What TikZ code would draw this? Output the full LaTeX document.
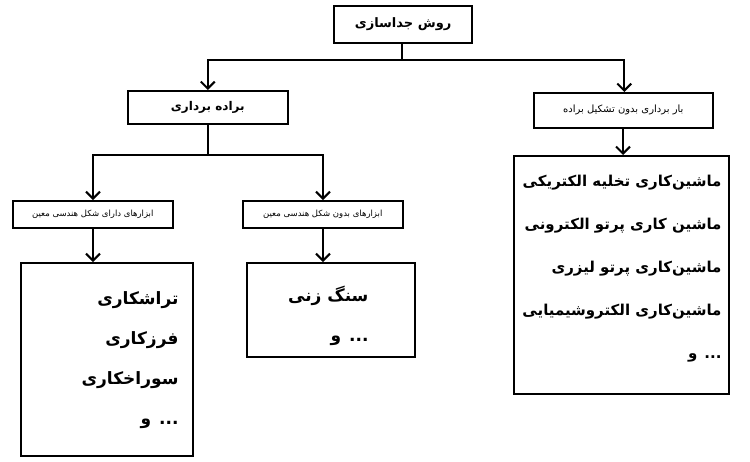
\documentclass[tikz,border=0pt]{standalone}
\usepackage{fontspec}
\newfontfamily\ar[Script=Arabic]{DejaVu Sans}
\TeXXeTstate=1
\newcommand{\fa}[1]{{\ar\beginR #1\endR}}
\usetikzlibrary{arrows.meta}
\begin{document}
\begin{tikzpicture}[x=1pt,y=-1pt,
  box/.style={draw,line width=1.6pt,inner sep=0pt,anchor=north west},
  con/.style={line width=2pt},
  arr/.style={con,-{Straight Barb[length=7pt,width=14pt,line width=2pt]}}]
\useasboundingbox (0,0) rectangle (750,461);
\node[box,minimum width=138,minimum height=37,line width=2.2pt] (top) at (333,5) {\fa{\bfseries\fontsize{13}{15}\selectfont روش جداسازی}};
\node[box,minimum width=160,minimum height=33] (bb) at (127,90) {\fa{\bfseries\fontsize{12}{14}\selectfont براده برداری}};
\node[box,minimum width=179,minimum height=35] (nb) at (533,92) {\fa{\fontsize{10}{12}\selectfont بار برداری بدون تشکیل براده}};
\node[box,minimum width=160,minimum height=27] (t1) at (12,200) {\fa{\fontsize{8.5}{10}\selectfont ابزارهای دارای شکل هندسی معین}};
\node[box,minimum width=160,minimum height=27] (t2) at (242,200) {\fa{\fontsize{8.5}{10}\selectfont ابزارهای بدون شکل هندسی معین}};
\node[box,minimum width=172,minimum height=193] (b1) at (20,262) {};
\node[box,minimum width=168,minimum height=94] (b2) at (246,262) {};
\node[box,minimum width=215,minimum height=238] (b3) at (513,155) {};
\node[anchor=north east,align=right,font=\bfseries\fontsize{17}{40}\selectfont] at (182,288)
 {\fa{تراشکاری}\\\fa{فرزکاری}\\\fa{سوراخکاری}\\\fa{... و}};
\node[anchor=north east,align=right,font=\bfseries\fontsize{17}{40}\selectfont] at (372,282)
 {\fa{سنگ زنی}\\\fa{... و}};
\node[anchor=north east,align=right,font=\bfseries\fontsize{15}{43}\selectfont] at (725,172)
 {\fa{ماشین‌کاری تخلیه الکتریکی}\\\fa{ماشین کاری پرتو الکترونی}\\\fa{ماشین‌کاری پرتو لیزری}\\\fa{ماشین‌کاری الکتروشیمیایی}\\\fa{... و}};
\coordinate (j1) at (402,60);
\draw[con] (top.south -| j1) -- (j1);
\draw[arr] (j1) -| (bb.north);
\draw[arr] (j1) -| ([xshift=1pt]nb.north);
\coordinate (j2) at (207,155);
\draw[con] (bb.south) -- (bb.south |- j2) -- (j2);
\draw[arr] (j2) -| (t1.north -| 93,0);
\draw[arr] (j2) -| (t2.north -| 323,0);
\draw[arr] (t1.south -| 93,0) -- (b1.north -| 93,0);
\draw[arr] (t2.south -| 323,0) -- (b2.north -| 323,0);
\draw[arr] (nb.south -| 623,0) -- (b3.north -| 623,0);
\end{tikzpicture}
\end{document}
